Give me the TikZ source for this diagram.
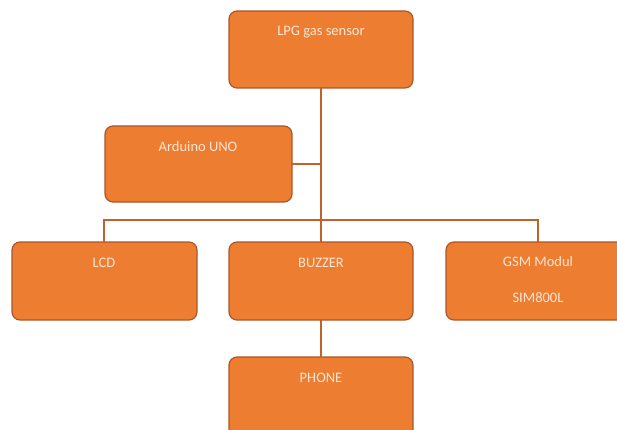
\documentclass[tikz,border=0pt]{standalone}
\usepackage{fontspec}
\setmainfont{Carlito}
\definecolor{boxfill}{HTML}{ED7D31}
\definecolor{boxline}{HTML}{A9572A}
\definecolor{wire}{HTML}{C0622B}
\definecolor{txt}{HTML}{FBE6D6}
\begin{document}
\begin{tikzpicture}[x=1pt,y=-1pt,
  blk/.style={draw=boxline,line width=1.2pt,fill=boxfill,rounded corners=8pt},
  lbl/.style={text=txt,font=\fontsize{14.5}{16}\selectfont,inner sep=0pt},
  wireline/.style={draw=wire,line width=1.3pt}]
\useasboundingbox (0,0) rectangle (617,430);
\clip (0,0) rectangle (617,430);
% boxes
\draw[blk] (229,11) rectangle (413,88);
\coordinate (lpgB) at (321,88);
\node[lbl] (lpg) at (321,32) {LPG gas sensor};
\draw[blk] (105,126) rectangle (292,202);
\coordinate (ardR) at (292,164);
\node[lbl] (ard) at (198,147) {Arduino UNO};
\draw[blk] (12,242) rectangle (197,320);
\node[lbl] (lcd) at (104,263) {LCD};
\draw[blk] (229,242) rectangle (413,320);
\node[lbl] (buz) at (321,263) {BUZZER};
\draw[blk] (446,242) rectangle (640,320);
\node[lbl] (gsm1) at (538,262) {GSM Modul};
\node[lbl] (gsm2) at (538,298) {SIM800L};
\draw[blk] (229,357) rectangle (413,450);
\node[lbl] (phone) at (321,378) {PHONE};
% coordinates for connectors
\coordinate (lcdT) at (104,242);
\coordinate (buzT) at (321,242);
\coordinate (buzB) at (321,320);
\coordinate (gsmT) at (538,242);
\coordinate (phT) at (321,357);
\coordinate (busL) at (104,220);
\coordinate (busR) at (538,220);
\coordinate (busM) at (321,220);
\coordinate (ardJ) at (321,164);
% connectors
\draw[wireline] (lpgB) -- (buzT);
\draw[wireline] (ardR) -- (ardJ);
\draw[wireline] (lcdT) -- (busL) -- (busR) -- (gsmT);
\draw[wireline] (buzB) -- (phT);
\end{tikzpicture}
\end{document}
